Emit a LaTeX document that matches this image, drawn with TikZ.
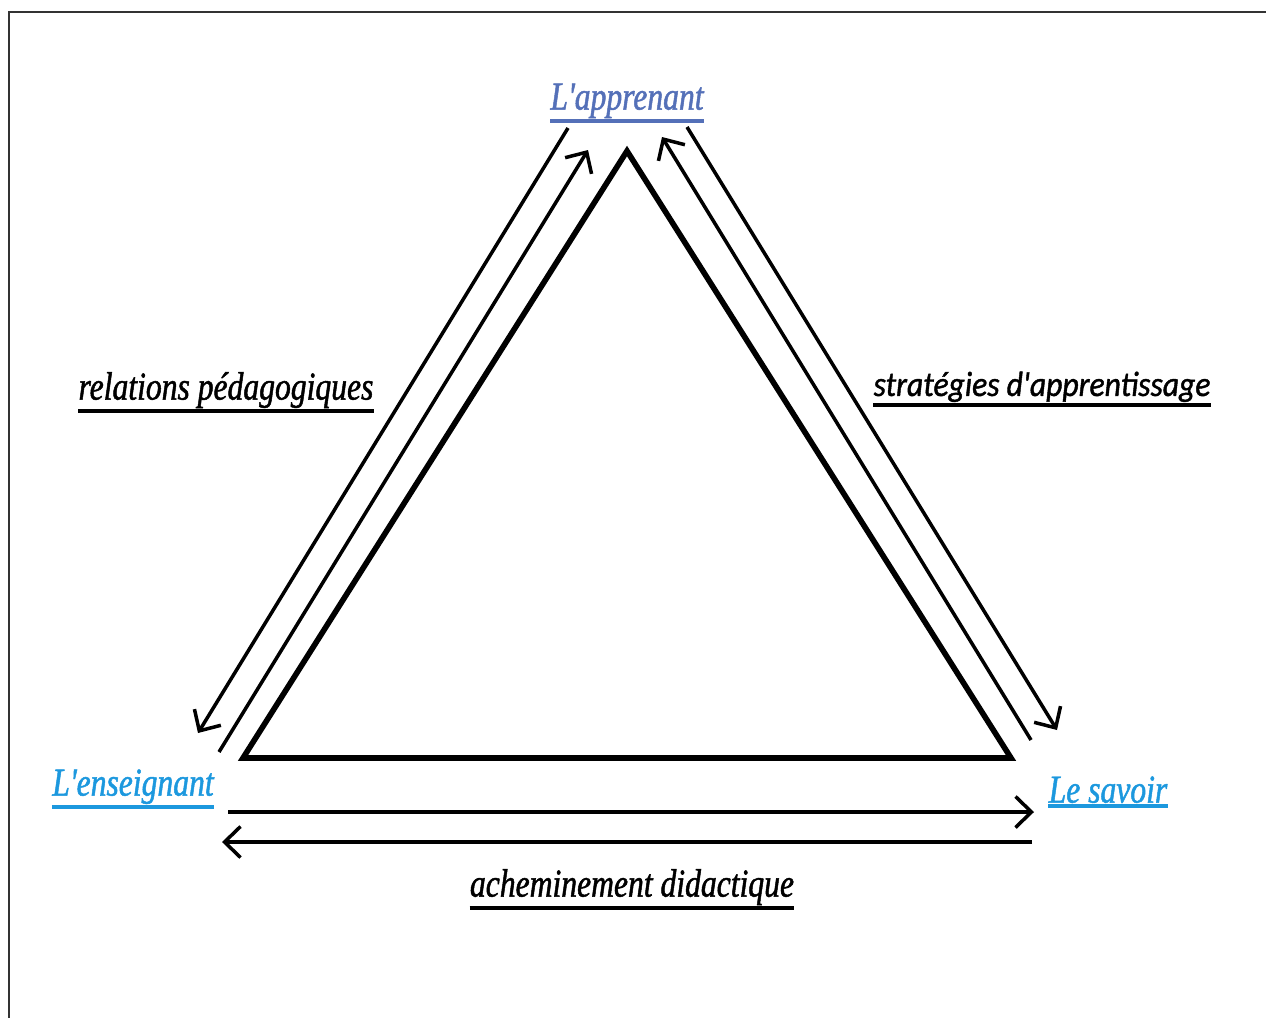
\documentclass[tikz,border=0pt]{standalone}
\usepackage{fontspec}
\setmainfont{Liberation Serif}
\newfontfamily\poleserif[FakeStretch=0.8,FakeBold=1.2]{Liberation Serif}
\newfontfamily\polesans[FakeStretch=0.9,FakeBold=1.2]{Carlito}
\usetikzlibrary{arrows.meta}
\definecolor{apprblue}{RGB}{84,112,184}
\definecolor{poleblue}{RGB}{28,152,222}
\tikzset{
  triangle/.style={line width=3.2pt},
  fleche/.style={line width=2pt,-{Straight Barb[length=3.2mm,width=6.2mm]}},
  pole/.style={anchor=south,inner xsep=0pt,inner ysep=1.5pt,text=#1,
    font=\poleserif\fontsize{22.5}{24}\selectfont\itshape},
  relation/.style={anchor=south,inner xsep=0pt,inner ysep=1.5pt,
    font=\poleserif\fontsize{22.5}{24}\selectfont\itshape},
}
\begin{document}
\begin{tikzpicture}[x=0.02cm,y=-0.02cm]
  \useasboundingbox (0,0) rectangle (1266,1017);
  \draw[line width=1.2pt,black!80] (9,1040) -- (9,12) -- (1290,12);
  % triangle
  \coordinate (A) at (627,151);
  \coordinate (E) at (243,758);
  \coordinate (S) at (1011,758);
  \draw[triangle] (A) -- (E) -- (S) -- cycle;
  % les trois poles
  \node[pole=apprblue] (apprenant) at (627,121) {L'apprenant};
  \node[pole=poleblue] (enseignant) at (133,807) {L'enseignant};
  \node[pole=poleblue] (savoir) at (1108,806) {Le savoir};
  % les relations
  \node[relation] (relations) at (226,411) {relations pédagogiques};
  \node[relation,font=\polesans\fontsize{20}{22}\selectfont\itshape] (strategies) at (1042,405) {stratégies d'apprentissage};
  \node[relation] (acheminement) at (632,908) {acheminement didactique};
  \foreach \n/\c in {apprenant/apprblue,enseignant/poleblue,savoir/poleblue,
    relations/black,strategies/black,acheminement/black}
    \draw[line width=2.2pt,\c] (\n.south west) -- (\n.south east);
  % fleches
  \coordinate (g1) at (568,128); \coordinate (g2) at (198,733);
  \coordinate (g3) at (219,752); \coordinate (g4) at (588,150);
  \coordinate (d1) at (1031,740); \coordinate (d2) at (662,137);
  \coordinate (d3) at (687,127); \coordinate (d4) at (1057,730);
  \coordinate (b1) at (228,812); \coordinate (b2) at (1034,812);
  \coordinate (b3) at (1032,842); \coordinate (b4) at (222,842);
  \draw[fleche] (g1) -- (g2);
  \draw[fleche] (g3) -- (g4);
  \draw[fleche] (d1) -- (d2);
  \draw[fleche] (d3) -- (d4);
  \draw[fleche] (b1) -- (b2);
  \draw[fleche] (b3) -- (b4);
\end{tikzpicture}
\end{document}
